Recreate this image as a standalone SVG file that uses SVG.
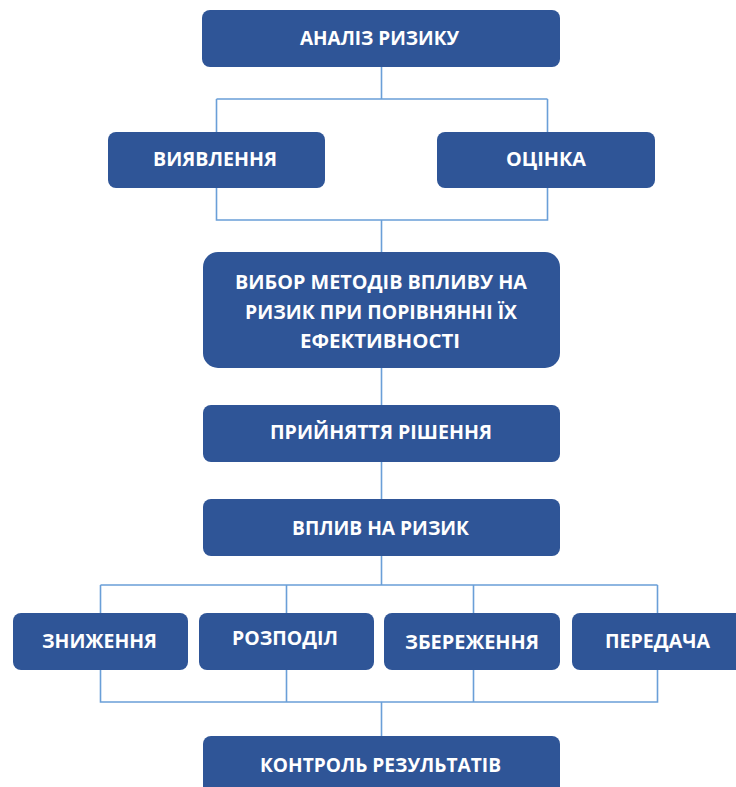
<svg xmlns="http://www.w3.org/2000/svg" width="736" height="787" viewBox="0 0 736 787">
<style>
.box{fill:#2F5597;}
.t{fill:#ffffff;font-family:"Open Sans","Noto Sans","Liberation Sans",sans-serif;font-weight:bold;font-size:19px;}
.c{fill:none;stroke:#6A9FD8;stroke-width:1.6;}
</style>
<rect width="736" height="787" fill="#ffffff"/>
<g id="connectors">
<path class="c" d="M381.5 67 V99 M216.5 99 H547.5 M216.5 99 V132 M547.5 99 V132"/>
<path class="c" d="M216.5 188 V220 H547.5 V188 M381.5 220 V252"/>
<path class="c" d="M381.5 368 V405"/>
<path class="c" d="M381.5 462 V499"/>
<path class="c" d="M381.5 556 V585 M100.5 585 H657.5 M100.5 585 V613 M286.5 585 V613 M473.5 585 V613 M657.5 585 V613"/>
<path class="c" d="M100.5 670 V702 H657.5 V670 M286.5 670 V702 M473.5 670 V702 M381.5 702 V736"/>
</g>
<g id="n1"><rect class="box" x="202" y="10" width="358" height="57" rx="8"/><text class="t" x="300" y="45" textLength="159" lengthAdjust="spacingAndGlyphs">АНАЛІЗ РИЗИКУ</text></g>
<g id="n2"><rect class="box" x="108" y="132" width="217" height="56" rx="8"/><text class="t" x="153" y="166" textLength="124" lengthAdjust="spacingAndGlyphs">ВИЯВЛЕННЯ</text></g>
<g id="n3"><rect class="box" x="437" y="132" width="218" height="56" rx="8"/><text class="t" x="506" y="166" textLength="80" lengthAdjust="spacingAndGlyphs">ОЦІНКА</text></g>
<g id="n4"><rect class="box" x="203" y="252" width="357" height="116" rx="15"/>
<text class="t" x="235" y="289" textLength="292" lengthAdjust="spacingAndGlyphs">ВИБОР МЕТОДІВ ВПЛИВУ НА</text>
<text class="t" x="245" y="319" textLength="272" lengthAdjust="spacingAndGlyphs">РИЗИК ПРИ ПОРІВНЯННІ ЇХ</text>
<text class="t" x="300" y="348" textLength="160" lengthAdjust="spacingAndGlyphs">ЕФЕКТИВНОСТІ</text></g>
<g id="n5"><rect class="box" x="203" y="405" width="357" height="57" rx="8"/><text class="t" x="270" y="439" textLength="222" lengthAdjust="spacingAndGlyphs">ПРИЙНЯТТЯ РІШЕННЯ</text></g>
<g id="n6"><rect class="box" x="203" y="499" width="357" height="57" rx="8"/><text class="t" x="292" y="535" textLength="177" lengthAdjust="spacingAndGlyphs">ВПЛИВ НА РИЗИК</text></g>
<g id="n7"><rect class="box" x="13" y="613" width="175" height="57" rx="8"/><text class="t" x="42" y="648" textLength="115" lengthAdjust="spacingAndGlyphs">ЗНИЖЕННЯ</text></g>
<g id="n8"><rect class="box" x="199" y="613" width="175" height="57" rx="8"/><text class="t" x="232" y="645" textLength="106" lengthAdjust="spacingAndGlyphs">РОЗПОДІЛ</text></g>
<g id="n9"><rect class="box" x="384" y="613" width="176" height="57" rx="8"/><text class="t" x="405" y="649" textLength="134" lengthAdjust="spacingAndGlyphs">ЗБЕРЕЖЕННЯ</text></g>
<g id="n10"><rect class="box" x="572" y="613" width="176" height="57" rx="8"/><text class="t" x="605" y="648" textLength="105" lengthAdjust="spacingAndGlyphs">ПЕРЕДАЧА</text></g>
<g id="n11"><rect class="box" x="203" y="736" width="357" height="60" rx="8"/><text class="t" x="260" y="772" textLength="241" lengthAdjust="spacingAndGlyphs">КОНТРОЛЬ РЕЗУЛЬТАТІВ</text></g>
</svg>
